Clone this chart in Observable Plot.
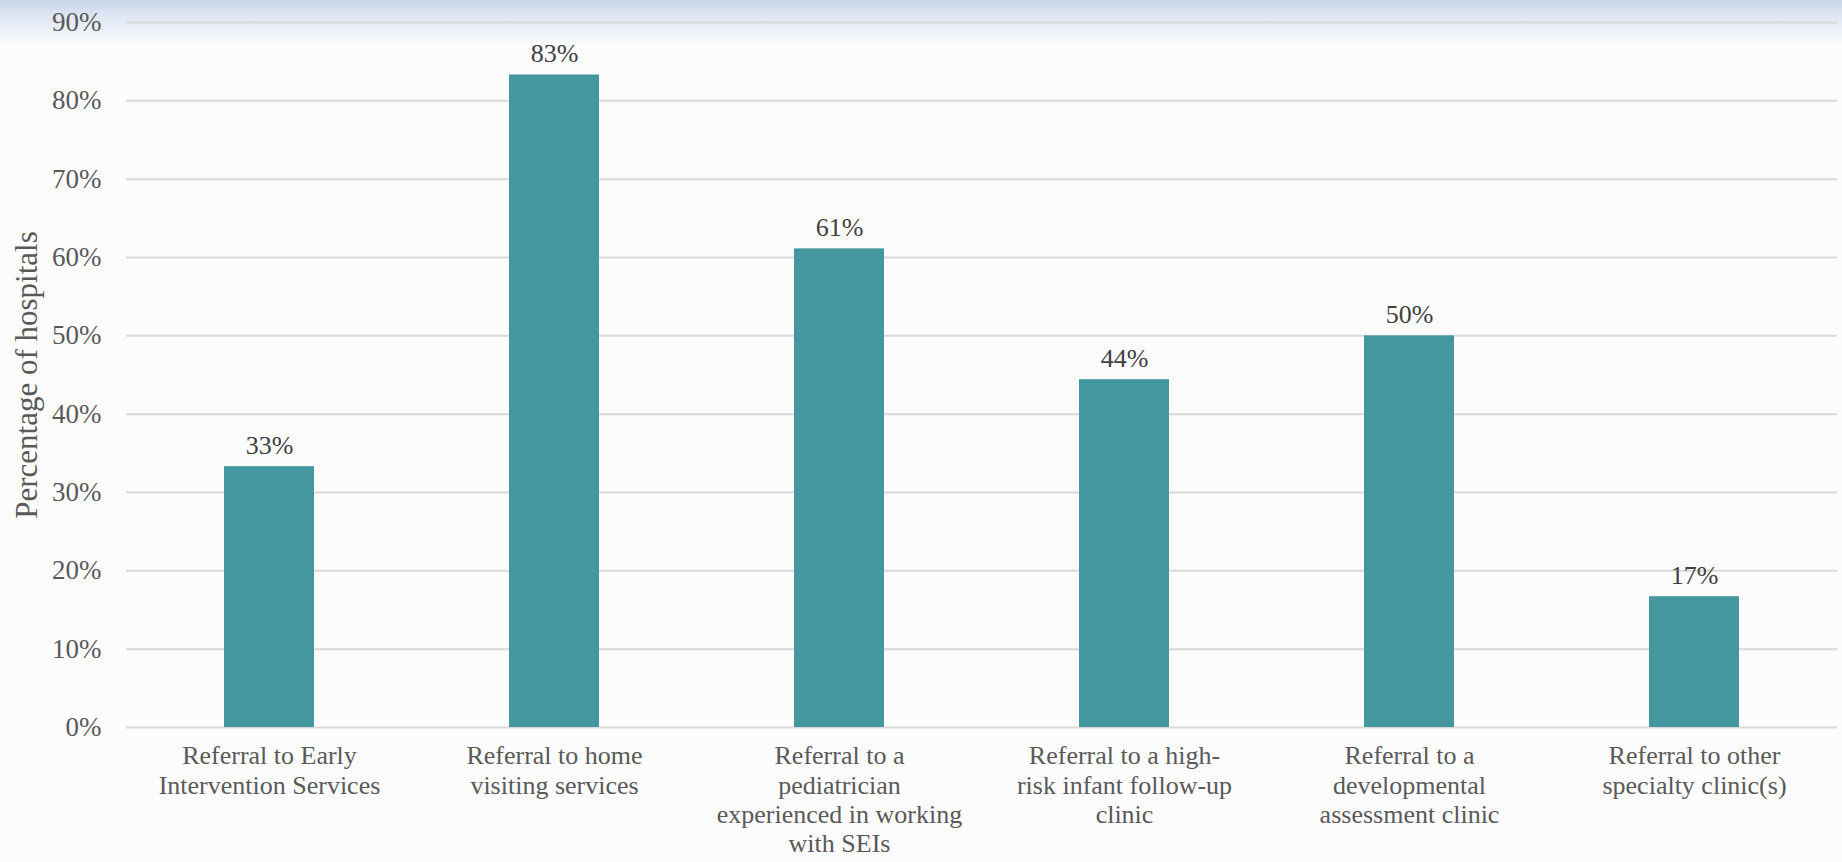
<!DOCTYPE html>
<html>
<head>
<meta charset="utf-8">
<script src="https://cdn.jsdelivr.net/npm/d3@7"></script>
<script src="https://cdn.jsdelivr.net/npm/@observablehq/plot@0.6"></script>
<style>
  html, body { margin: 0; padding: 0; width: 1842px; height: 862px; overflow: hidden; background: #fcfcfc; }
  #bg { position: absolute; left: 0; top: 0; width: 1842px; height: 42px;
        background: linear-gradient(to bottom, #c9d6e9 0px, #dbe4f1 14px, #ecf1f8 30px, #f6f9fc 42px); }
  #chart { position: absolute; left: 0; top: 0; }
  #chart svg { background: transparent; }
</style>
</head>
<body>
<div id="bg"></div>
<div id="chart"></div>
<script>
const categories = [
  "Referral to Early\nIntervention Services",
  "Referral to home\nvisiting services",
  "Referral to a\npediatrician\nexperienced in working\nwith SEIs",
  "Referral to a high-\nrisk infant follow-up\nclinic",
  "Referral to a\ndevelopmental\nassessment clinic",
  "Referral to other\nspecialty clinic(s)"
];
const values = [0.333, 0.833, 0.611, 0.444, 0.500, 0.167];
const yTicks = [0, 0.1, 0.2, 0.3, 0.4, 0.5, 0.6, 0.7, 0.8, 0.9];
const yTitle = "Percentage of hospitals";

const data = categories.map((c, i) => ({category: c, value: values[i]}));
const pct = d3.format(".0%");
const font = "'Liberation Serif', 'DejaVu Serif', serif";

const chart = Plot.plot({
  width: 1842,
  height: 862,
  marginLeft: 126,
  marginRight: 5,
  marginTop: 22,
  marginBottom: 135,
  style: { background: "transparent", fontFamily: font, color: "#595959" },
  x: { domain: categories, paddingInner: 0.684, paddingOuter: 0.342 },
  y: { domain: [0, 0.9] },
  marks: [
    Plot.gridY(yTicks, { stroke: "#d9d9d9", strokeOpacity: 1, strokeWidth: 2 }),
    Plot.axisY(yTicks, {
      tickSize: 0, tickPadding: 25, tickFormat: pct,
      fontSize: 27, fill: "#595959",
      label: yTitle, labelAnchor: "center", labelOffset: 112, labelArrow: "none"
    }),
    Plot.axisX({
      tickSize: 0, tickPadding: 16, fontSize: 26, lineHeight: 1.13,
      fill: "#595959", label: null
    }),
    Plot.barY(data, { x: "category", y: "value", fill: "#45979f" }),
    Plot.text(data, {
      x: "category", y: "value", text: d => pct(d.value),
      dy: -13, lineAnchor: "bottom", fontSize: 26, fill: "#404040"
    })
  ]
});
document.getElementById("chart").appendChild(chart);
// style the y-axis label
chart.querySelectorAll("[aria-label='y-axis label'] text").forEach(t => {
  t.setAttribute("font-size", "31");
  t.style.fontSize = "31px";
});
</script>
</body>
</html>
